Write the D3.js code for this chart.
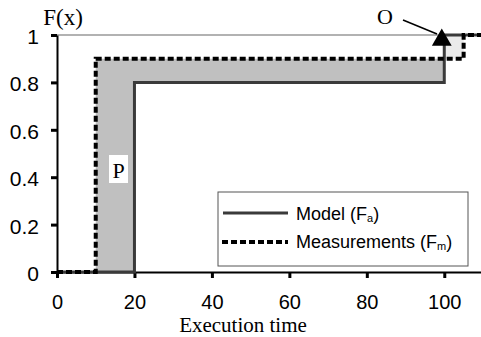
<!DOCTYPE html>
<html>
<head>
<meta charset="utf-8">
<script src="https://cdn.jsdelivr.net/npm/d3@7"></script>
<style>
  body { margin: 0; background: #fff; }
  svg { display: block; }
</style>
</head>
<body>
<div id="chart"></div>
<script>
// step CDFs
const modelX = [0, 20, 100, 110];
const modelY = [0, 0.8, 1, 1];
const measX = [0, 10, 105, 110];
const measY = [0, 0.9, 1, 1];
const xTicks = [0, 20, 40, 60, 80, 100];
const yTicks = [0, 0.2, 0.4, 0.6, 0.8, 1];
const yTickLabels = ['0', '0.2', '0.4', '0.6', '0.8', '1'];

const width = 481, height = 337;
const x = d3.scaleLinear().domain([0, 110]).range([57, 483]);
const y = d3.scaleLinear().domain([0, 1]).range([272, 35]);

const serif = '"Liberation Serif", "Times New Roman", serif';
const sans = '"Liberation Sans", Arial, sans-serif';

const svg = d3.select('#chart').append('svg')
  .attr('width', width)
  .attr('height', height);

// step value lookup
function stepAt(xs, ys, v) {
  let r = ys[0];
  xs.forEach((d, i) => { if (v >= d) r = ys[i]; });
  return r;
}
const breaks = Array.from(new Set(modelX.concat(measX))).sort((a, b) => a - b);
const pts = breaks.map(b => ({ x: b, m: stepAt(modelX, modelY, b), f: stepAt(measX, measY, b) }));

// top gridline at 1
svg.append('line')
  .attr('x1', x(0)).attr('x2', width)
  .attr('y1', y(1)).attr('y2', y(1))
  .attr('stroke', '#999').attr('stroke-width', 1.5);

// filled gaps between the curves
const areaP = d3.area().curve(d3.curveStepAfter)
  .x(d => x(d.x)).y0(d => y(d.m)).y1(d => y(Math.max(d.m, d.f)));
const areaO = d3.area().curve(d3.curveStepAfter)
  .x(d => x(d.x)).y0(d => y(d.f)).y1(d => y(Math.max(d.m, d.f)));

svg.append('path').datum(pts).attr('d', areaP).attr('fill', '#c0c0c0');
svg.append('path').datum(pts).attr('d', areaO).attr('fill', '#ebebeb');

// axes
const xAxis = svg.append('g')
  .attr('transform', `translate(0,${y(0)})`)
  .call(d3.axisBottom(x).tickValues(xTicks).tickSize(6).tickSizeOuter(0).tickFormat(d3.format('d')));
const yAxis = svg.append('g')
  .attr('transform', `translate(${x(0)},0)`)
  .call(d3.axisLeft(y).tickValues(yTicks).tickSize(6).tickSizeOuter(0).tickFormat((d, i) => yTickLabels[i]));

[xAxis, yAxis].forEach(g => {
  g.select('.domain').attr('stroke', '#000').attr('stroke-width', 2);
  g.selectAll('.tick line').attr('stroke', '#000').attr('stroke-width', 3);
  g.selectAll('.tick text')
    .attr('fill', '#000')
    .style('font-family', sans)
    .style('font-size', '21px');
});
xAxis.selectAll('.tick text').attr('y', 23).style('font-size', '20px');
yAxis.selectAll('.tick text').attr('x', -18).attr('dy', '0.4em');

// curves
const line = d3.line().curve(d3.curveStepAfter).x(d => x(d[0])).y(d => y(d[1]));

svg.append('path')
  .datum(modelX.map((d, i) => [d, modelY[i]]))
  .attr('d', line)
  .attr('fill', 'none')
  .attr('stroke', '#3a3a3a')
  .attr('stroke-width', 3);

svg.append('path')
  .datum(measX.map((d, i) => [d, measY[i]]))
  .attr('d', line)
  .attr('fill', 'none')
  .attr('stroke', '#000')
  .attr('stroke-width', 4)
  .attr('stroke-dasharray', '6,3');

// P label
svg.append('rect')
  .attr('x', 109).attr('y', 155).attr('width', 19).attr('height', 28)
  .attr('fill', '#fff');
svg.append('text')
  .attr('x', 118.5).attr('y', 178)
  .attr('text-anchor', 'middle')
  .style('font-family', serif)
  .style('font-size', '22px')
  .text('P');

// O label with arrow to triangle
svg.append('line')
  .attr('x1', 403).attr('y1', 20)
  .attr('x2', 437).attr('y2', 34)
  .attr('stroke', '#000').attr('stroke-width', 1.5);
svg.append('path')
  .attr('d', d3.symbol().type(d3.symbolTriangle).size(170)())
  .attr('transform', `translate(${x(100) - 2.5},${y(1) + 5})`)
  .attr('fill', '#000');
svg.append('text')
  .attr('x', 385).attr('y', 24)
  .attr('text-anchor', 'middle')
  .style('font-family', serif)
  .style('font-size', '22px')
  .text('O');

// axis titles
svg.append('text')
  .attr('x', 63).attr('y', 25)
  .attr('text-anchor', 'middle')
  .style('font-family', serif)
  .style('font-size', '23px')
  .text('F(x)');
svg.append('text')
  .attr('x', 243).attr('y', 332)
  .attr('text-anchor', 'middle')
  .style('font-family', serif)
  .style('font-size', '21px')
  .text('Execution time');

// legend
const legend = svg.append('g');
legend.append('rect')
  .attr('x', 218).attr('y', 192).attr('width', 250).attr('height', 74)
  .attr('fill', '#fff').attr('stroke', '#555').attr('stroke-width', 1);

const legendItems = [
  { name: 'Model (F', sub: 'a', stroke: '#3a3a3a', width: 3, dash: null, y: 213, base: 220 },
  { name: 'Measurements (F', sub: 'm', stroke: '#000', width: 4, dash: '6,3', y: 242, base: 248 }
];
legendItems.forEach(d => {
  legend.append('line')
    .attr('x1', d.dash ? 222 : 223).attr('x2', 288)
    .attr('y1', d.y).attr('y2', d.y)
    .attr('stroke', d.stroke).attr('stroke-width', d.width)
    .attr('stroke-dasharray', d.dash);
  const t = legend.append('text')
    .attr('x', 296).attr('y', d.base)
    .style('font-family', sans)
    .style('font-size', '18px');
  t.append('tspan').text(d.name);
  t.append('tspan').attr('font-size', '11px').attr('dy', 2).text(d.sub);
  t.append('tspan').attr('dy', -2).text(')');
});
</script>
</body>
</html>
